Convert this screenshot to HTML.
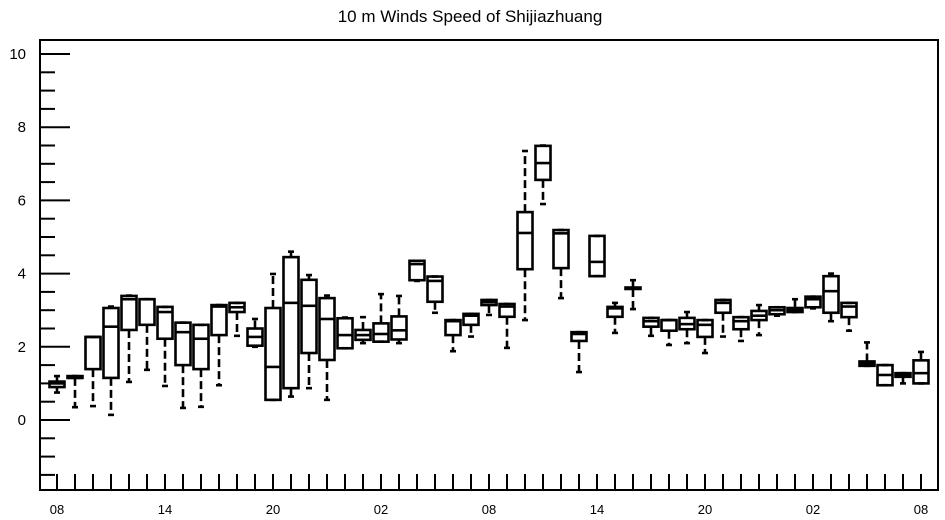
<!DOCTYPE html>
<html><head><meta charset="utf-8"><style>
body{margin:0;background:#fff;}
svg{display:block;font-family:"Liberation Sans",Arial,sans-serif;}
</style></head><body>
<svg id="c" width="945" height="520">
<text x="470" y="22" text-anchor="middle" font-size="17">10 m Winds Speed of Shijiazhuang</text>
<rect x="40" y="40" width="898" height="450" fill="none" stroke="#000" stroke-width="2"/>
<g id="ax"></g><g id="marks"></g>
</svg>
<script>
const q3  =[1.05,1.2,2.27,3.06,3.39,3.3,3.09,2.66,2.6,3.14,3.2,2.5,3.06,4.45,3.83,3.33,2.78,2.46,2.64,2.83,4.35,3.92,2.73,2.9,3.28,3.17,5.68,7.49,5.19,2.4,5.03,3.09,3.62,2.79,2.73,2.79,2.73,3.28,2.81,2.98,3.08,3.06,3.37,3.93,3.2,1.6,1.5,1.28,1.63];
const q1  =[0.9,1.15,1.39,1.15,2.46,2.6,2.22,1.5,1.39,2.32,2.95,2.03,0.55,0.87,1.83,1.64,1.96,2.19,2.14,2.2,3.82,3.23,2.32,2.6,3.14,2.82,4.12,6.56,4.15,2.16,3.93,2.82,3.58,2.55,2.44,2.48,2.27,2.93,2.48,2.73,2.89,2.95,3.08,2.93,2.81,1.48,0.95,1.18,1.0];
const med =[1.0,1.15,2.27,2.55,3.3,3.3,2.95,2.4,2.22,3.1,3.08,2.27,1.45,3.2,3.12,2.76,2.32,2.32,2.35,2.45,4.26,3.8,2.7,2.85,3.22,3.1,5.11,7.02,5.1,2.35,4.32,3.05,3.6,2.7,2.73,2.62,2.6,3.2,2.7,2.85,3.0,3.0,3.3,3.52,3.1,1.55,1.23,1.23,1.28];
const wmax=[1.2,1.2,2.27,3.1,3.4,3.3,3.09,2.66,2.6,3.14,3.2,2.76,3.99,4.6,3.96,3.4,2.8,2.81,3.44,3.39,4.35,3.92,2.73,2.9,3.28,3.17,7.35,7.5,5.19,2.4,5.03,3.2,3.82,2.79,2.73,2.95,2.73,3.28,2.81,3.14,3.08,3.3,3.37,4.0,3.2,2.12,1.5,1.28,1.86];
const wmin=[0.75,0.35,0.38,0.14,1.04,1.37,0.93,0.33,0.36,0.95,2.3,2.0,0.55,0.64,0.87,0.55,1.96,2.1,2.14,2.1,3.8,2.93,1.88,2.28,2.87,1.97,2.73,5.9,3.33,1.31,3.93,2.38,3.03,2.3,2.05,2.1,1.83,2.28,2.16,2.32,2.85,2.95,3.05,2.7,2.44,1.48,0.95,1.0,1.0];
const yTicks=[0,2,4,6,8,10];
const xLabels=["08","14","20","02","08","14","20","02","08"];
const NS="http://www.w3.org/2000/svg";
const X=i=>57+18*i, Y=v=>420-36.6*v;
function mk(t,a,p){const e=document.createElementNS(NS,t);for(const k in a)e.setAttribute(k,a[k]);p.appendChild(e);return e;}
const ax=document.getElementById('ax'),mg=document.getElementById('marks');
for(let v=-1.5;v<=10.3;v+=0.5){
  const maj=Math.abs(v-Math.round(v/2)*2)<1e-6;
  const l=mk('line',{x1:40,x2:maj?70:55,y1:Y(v),y2:Y(v),stroke:'#000','stroke-width':2},ax);
  
  
}
yTicks.forEach(v=>{const t=mk('text',{x:26,y:Y(v)+5,'text-anchor':'end','font-size':15},ax);t.textContent=v;
  
  });
for(let i=0;i<q3.length;i++){
  const l=mk('line',{x1:X(i),x2:X(i),y1:490,y2:474,stroke:'#000','stroke-width':2},ax);
  
  
}
xLabels.forEach((s,k)=>{const t=mk('text',{x:X(k*6),y:514,'text-anchor':'middle','font-size':13},ax);t.textContent=s;
  
  });
for(let i=0;i<q3.length;i++){
  const g=mk('g',{stroke:'#000','stroke-width':2.6,fill:'none'},mg);
  
  
  const x=X(i);
  if(wmax[i]>q3[i]+0.01){mk('line',{x1:x,x2:x,y1:Y(q3[i]),y2:Y(wmax[i]),'stroke-dasharray':'8,4'},g);}
  if(wmin[i]<q1[i]-0.01){mk('line',{x1:x,x2:x,y1:Y(q1[i]),y2:Y(wmin[i]),'stroke-dasharray':'8,4'},g);}
  mk('line',{x1:x-3,x2:x+3,y1:Y(wmax[i]),y2:Y(wmax[i])},g);
  mk('line',{x1:x-3,x2:x+3,y1:Y(wmin[i]),y2:Y(wmin[i])},g);
  mk('rect',{x:x-7.5,y:Y(q3[i]),width:15,height:Math.max(1,Y(q1[i])-Y(q3[i]))},g);
  mk('line',{x1:x-7.5,x2:x+7.5,y1:Y(med[i]),y2:Y(med[i])},g);
}
</script>
</body></html>
